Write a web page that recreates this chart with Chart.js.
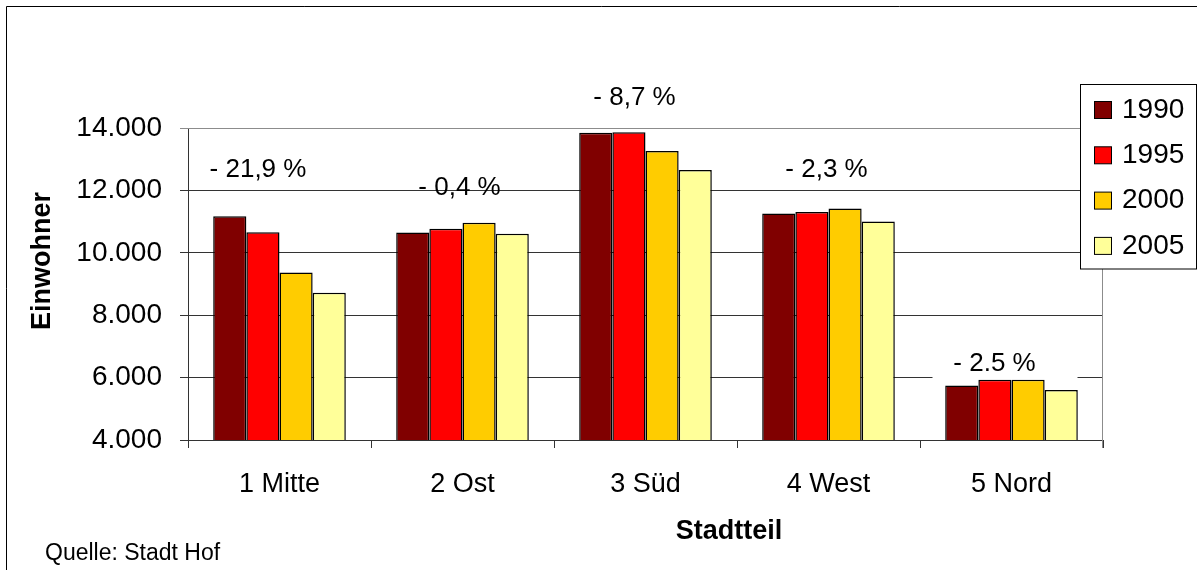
<!DOCTYPE html>
<html lang="de">
<head>
<meta charset="utf-8">
<title>Einwohner nach Stadtteil</title>
<script src="https://cdn.jsdelivr.net/npm/chart.js@4.4.1/dist/chart.umd.min.js"></script>
<style>
  html, body { margin: 0; padding: 0; background: #fff; }
  #wrap { width: 1197px; height: 570px; position: relative; }
  canvas { display: block; }
</style>
</head>
<body>
<div id="wrap"><canvas id="chart" width="1197" height="570"></canvas></div>
<script>
// Einwohner je Stadtteil, 1990 bis 2005
const categories = ['1 Mitte', '2 Ost', '3 Süd', '4 West', '5 Nord'];
const years = ['1990', '1995', '2000', '2005'];
const pop1990 = [11170, 10650, 13850, 11260, 5745];
const pop1995 = [10660, 10770, 13860, 11310, 5930];
const pop2000 = [9370, 10960, 13260, 11420, 5930];
const pop2005 = [8720, 10610, 12650, 11000, 5600];
const changeLabels = ['- 21,9 %', '- 0,4 %', '- 8,7 %', '- 2,3 %', '- 2.5 %'];
const yMin = 4000, yMax = 14000, yStep = 2000;

const seriesValues = [pop1990, pop1995, pop2000, pop2005];
const seriesColors = ['#800000', '#FF0000', '#FFCC00', '#FFFF99'];

// label placement: offset from the group centre and from the top of its tallest bar
const changeOffsets = [[-21.5, -46], [-3, -35], [-11, -35], [-2, -39], [-17, -16]];
// the Nord label sits on a white box that hides the grid line behind it
const boxedLabel = 4;

const FONT = "'Liberation Sans', Arial, Helvetica, sans-serif";

function fmtThousands(v) {
  return String(Math.round(v)).replace(/\B(?=(\d{3})+(?!\d))/g, '.');
}

function changeLabelPos(chart, i) {
  const xs = chart.scales.x, ys = chart.scales.y;
  const top = Math.max(...seriesValues.map(s => s[i]));
  return {
    x: xs.getPixelForValue(i) + changeOffsets[i][0],
    y: ys.getPixelForValue(top) + changeOffsets[i][1]
  };
}

const decorations = {
  id: 'decorations',
  beforeDatasetsDraw(chart) {
    const ctx = chart.ctx;
    const p = changeLabelPos(chart, boxedLabel);
    ctx.save();
    ctx.fillStyle = '#fff';
    ctx.fillRect(p.x - 62, p.y - 18, 145, 33);
    ctx.restore();
  },
  afterDraw(chart) {
    const ctx = chart.ctx;
    const a = chart.chartArea;
    ctx.save();

    // outer frame (only top and left edges fall inside the canvas)
    ctx.strokeStyle = '#000';
    ctx.lineWidth = 1;
    ctx.beginPath();
    ctx.moveTo(6.5, 570); ctx.lineTo(6.5, 6.5); ctx.lineTo(1197, 6.5);
    ctx.stroke();

    // plot area border: top and right edges
    ctx.strokeStyle = '#8c8c8c';
    ctx.beginPath();
    ctx.moveTo(a.left, a.top + 0.5); ctx.lineTo(a.right - 0.5, a.top + 0.5);
    ctx.lineTo(a.right - 0.5, a.bottom + 8);
    ctx.stroke();

    // change labels
    ctx.fillStyle = '#000';
    ctx.font = '26px ' + FONT;
    ctx.textAlign = 'center';
    ctx.textBaseline = 'middle';
    changeLabels.forEach((t, i) => {
      const p = changeLabelPos(chart, i);
      ctx.fillText(t, p.x, p.y);
    });

    // axis titles
    ctx.font = 'bold 27px ' + FONT;
    ctx.fillText('Stadtteil', 729, 532);
    ctx.save();
    ctx.translate(43, 261);
    ctx.rotate(-Math.PI / 2);
    ctx.fillText('Einwohner', 0, 0);
    ctx.restore();

    // source note
    ctx.font = '23px ' + FONT;
    ctx.textAlign = 'left';
    ctx.fillText('Quelle: Stadt Hof', 45, 554);

    // legend
    const lx = 1080.5, ly = 84.5, lw = 116, lh = 184.5;
    ctx.fillStyle = '#fff';
    ctx.fillRect(lx, ly, lw, lh);
    ctx.strokeStyle = '#000';
    ctx.strokeRect(lx, ly, lw, lh);
    ctx.font = '28px ' + FONT;
    chart.data.datasets.forEach((ds, i) => {
      const cy = 109 + i * 45.3;
      ctx.fillStyle = ds.backgroundColor;
      ctx.fillRect(1094.5, cy - 7.5, 17, 17);
      ctx.strokeStyle = '#000';
      ctx.strokeRect(1094.5, cy - 7.5, 17, 17);
      ctx.fillStyle = '#000';
      ctx.textBaseline = 'middle';
      ctx.fillText(ds.label, 1122, cy + 1);
    });
    ctx.restore();
  }
};

new Chart(document.getElementById('chart'), {
  type: 'bar',
  data: {
    labels: categories,
    datasets: years.map((y, i) => ({
      label: y,
      data: seriesValues[i],
      backgroundColor: seriesColors[i],
      borderColor: '#000',
      borderWidth: 1.5,
      categoryPercentage: 0.7246,
      barPercentage: 1.0
    }))
  },
  options: {
    responsive: false,
    animation: false,
    devicePixelRatio: 1,
    layout: { padding: { top: 128, right: 94, left: 0, bottom: 0 } },
    plugins: {
      legend: { display: false },
      tooltip: { enabled: false }
    },
    scales: {
      x: {
        offset: true,
        grid: { offset: true, drawOnChartArea: false, drawTicks: true, tickLength: 8, color: '#333' },
        border: { color: '#333', width: 1 },
        ticks: { color: '#000', font: { family: FONT, size: 27 }, padding: 20, maxRotation: 0 },
        afterFit(s) { s.height = 130; }
      },
      y: {
        min: yMin,
        max: yMax,
        grid: {
          drawTicks: true,
          tickLength: 8,
          color: (c) => (c.tick && c.tick.value === yMax ? '#8c8c8c' : '#333')
        },
        border: { color: '#333', width: 1 },
        ticks: {
          stepSize: yStep,
          color: '#000',
          font: { family: FONT, size: 28 },
          padding: 18,
          callback: (v) => fmtThousands(v)
        },
        afterFit(s) { s.width = 188; }
      }
    }
  },
  plugins: [decorations]
});
</script>
</body>
</html>
